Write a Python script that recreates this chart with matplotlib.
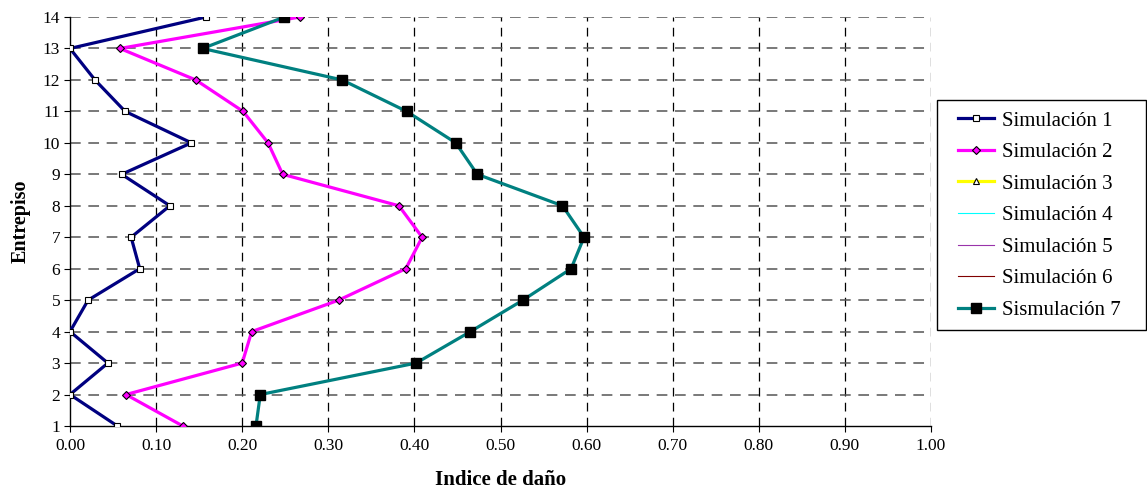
import matplotlib
matplotlib.use("Agg")
import matplotlib.pyplot as plt
from matplotlib.lines import Line2D
from matplotlib.patches import Rectangle

plt.rcParams['font.family'] = ['Liberation Serif', 'DejaVu Serif']

entrepiso = list(range(1, 15))
sim1 = [0.055, 0.0, 0.044, 0.0, 0.021, 0.081, 0.071, 0.116, 0.060, 0.141, 0.064, 0.029, 0.0, 0.158]
sim2 = [0.131, 0.065, 0.200, 0.211, 0.312, 0.390, 0.409, 0.382, 0.247, 0.230, 0.201, 0.146, 0.058, 0.267]
sim7 = [0.216, 0.221, 0.402, 0.465, 0.526, 0.582, 0.597, 0.572, 0.473, 0.448, 0.391, 0.316, 0.154, 0.249]
labels = ["Simulación 1", "Simulación 2", "Simulación 3", "Simulación 4",
          "Simulación 5", "Simulación 6", "Sismulación 7"]
xticks = [0.0, 0.1, 0.2, 0.3, 0.4, 0.5, 0.6, 0.7, 0.8, 0.9, 1.0]

W, H = 1147, 491
fig = plt.figure(figsize=(W/100, H/100), dpi=100)
ax = fig.add_axes([70/W, 1-426/H, (931-70)/W, (426-17)/H])

ax.set_xlim(0, 1.0)
ax.set_ylim(1, 14)
ax.set_xticks(xticks)
ax.set_xticklabels([f"{v:.2f}" for v in xticks])
ax.set_yticks(entrepiso)
for v in xticks[1:]:
    ax.axvline(v, color='black', lw=0.9, ls=(0, (7, 5)), zorder=1)
for v in entrepiso[1:]:
    ax.axhline(v, color='#555555', lw=1.1, ls=(0, (7, 5)), zorder=1)

lw = 2.3
ax.plot(sim1, entrepiso, color='#000080', lw=lw, marker='s', ms=5, mfc='white', mec='black', mew=0.8, zorder=3)
ax.plot(sim2, entrepiso, color='#FF00FF', lw=lw, marker='D', ms=4.5, mfc='#FF00FF', mec='black', mew=0.8, zorder=3)
ax.plot(sim7, entrepiso, color='#008080', lw=lw, marker='s', ms=6.5, mfc='black', mec='black', zorder=4)

handles = [
    Line2D([], [], color='#000080', lw=lw, marker='s', ms=5, mfc='white', mec='black', mew=0.8),
    Line2D([], [], color='#FF00FF', lw=lw, marker='D', ms=4.5, mfc='#FF00FF', mec='black', mew=0.8),
    Line2D([], [], color='#FFFF00', lw=lw, marker='^', ms=5, mfc='white', mec='black', mew=0.8),
    Line2D([], [], color='#00FFFF', lw=0.8),
    Line2D([], [], color='#9933AA', lw=0.8),
    Line2D([], [], color='#800000', lw=0.8),
    Line2D([], [], color='#008080', lw=lw, marker='s', ms=6.5, mfc='black', mec='black'),
]

for s in ['top', 'right']:
    ax.spines[s].set_visible(False)
ax.spines['left'].set_linewidth(1.0)
ax.spines['bottom'].set_linewidth(1.0)
ax.tick_params(axis='both', labelsize=12.5, length=4, width=0.8, direction='out')
ax.tick_params(axis='x', pad=5)
ax.tick_params(axis='y', pad=3)

ax.set_xlabel("Indice de daño", fontsize=15, fontweight='bold', labelpad=11)
ax.set_ylabel("Entrepiso", fontsize=14.5, fontweight='bold', labelpad=9)

# legend frame
fig.patches.append(Rectangle((937/W, 1-330/H), (1146-937)/W, (330-100)/H,
                             transform=fig.transFigure, fill=True, facecolor='white',
                             edgecolor='black', lw=1.0, zorder=0))
leg = fig.legend(handles, labels, loc='upper left', bbox_to_anchor=(958/W, 1-111/H),
                 fontsize=15, frameon=False, borderpad=0, borderaxespad=0,
                 handlelength=1.75, handletextpad=0.35, labelspacing=0.575)

fig.savefig("out.png", dpi=100)
